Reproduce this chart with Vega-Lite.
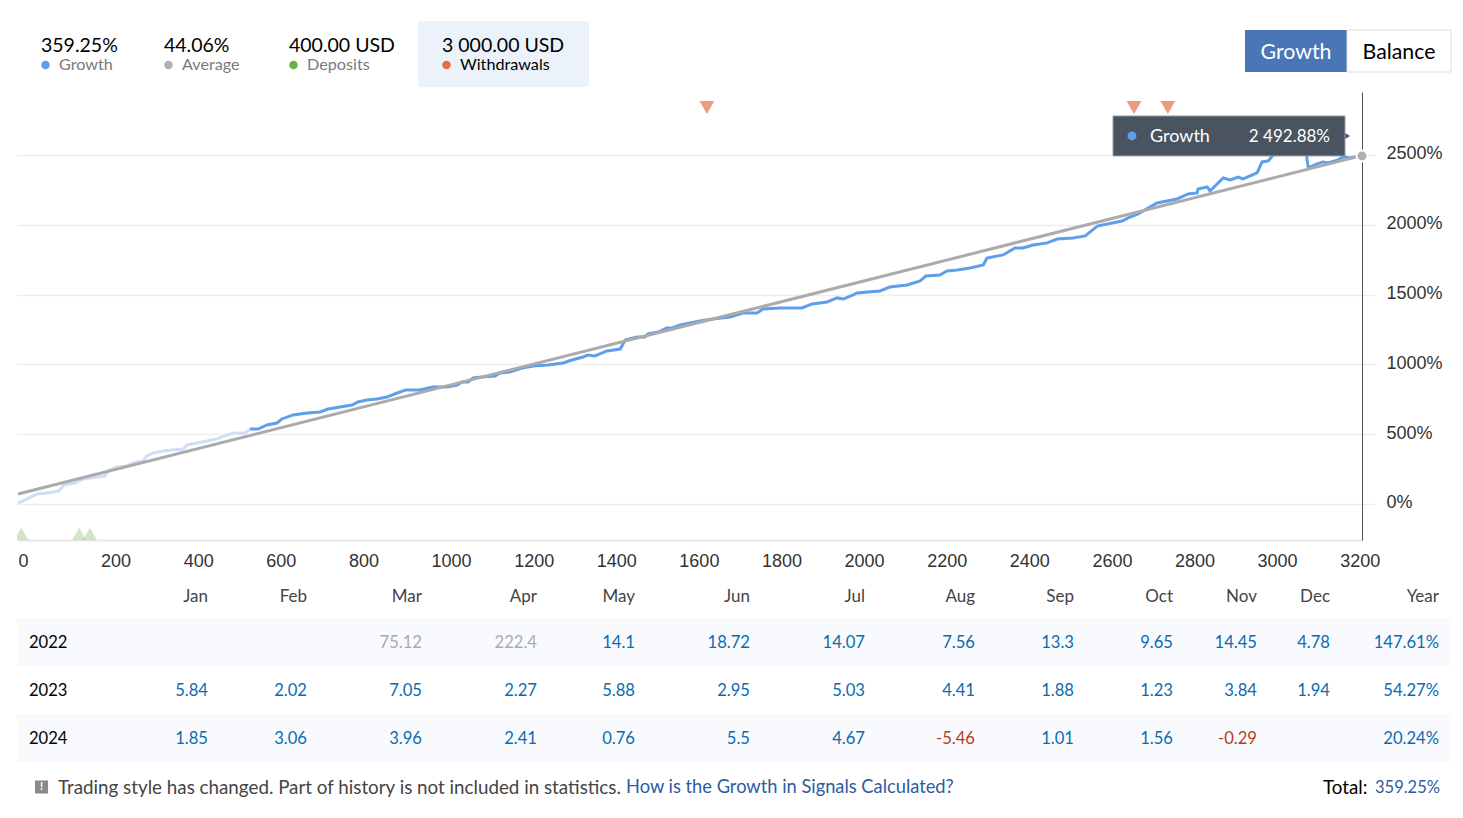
{
  "$schema": "https://vega.github.io/schema/vega-lite/v6.json",
  "padding": {"left": 11, "top": 0, "right": 0, "bottom": 0},
  "spacing": 0,
  "bounds": "flush",
  "background": "white",
  "resolve": {"scale": {"color": "independent"}},
  "config": {
    "view": {"stroke": null},
    "text": {"font": "Lato"},
    "axis": {"labelFont": "Liberation Sans", "labelColor": "#333333"}
  },
  "datasets": {
    "stats": [
      {"slot": 1, "amount": "359.25%", "label": "Growth"},
      {"slot": 2, "amount": "44.06%", "label": "Average"},
      {"slot": 3, "amount": "400.00 USD", "label": "Deposits"},
      {"slot": 4, "amount": "3 000.00 USD", "label": "Withdrawals"}
    ],
    "buttons": [
      {"slot": 5, "label": "Growth"},
      {"slot": 6, "label": "Balance"}
    ],
    "growth": [
      {"trade": 0, "growth": 7, "phase": "excluded"},
      {"trade": 22, "growth": 36, "phase": "excluded"},
      {"trade": 46, "growth": 72, "phase": "excluded"},
      {"trade": 70, "growth": 79, "phase": "excluded"},
      {"trade": 99, "growth": 93, "phase": "excluded"},
      {"trade": 111, "growth": 136, "phase": "excluded"},
      {"trade": 138, "growth": 150, "phase": "excluded"},
      {"trade": 157, "growth": 179, "phase": "excluded"},
      {"trade": 191, "growth": 193, "phase": "excluded"},
      {"trade": 211, "growth": 201, "phase": "excluded"},
      {"trade": 218, "growth": 236, "phase": "excluded"},
      {"trade": 240, "growth": 265, "phase": "excluded"},
      {"trade": 264, "growth": 272, "phase": "excluded"},
      {"trade": 278, "growth": 294, "phase": "excluded"},
      {"trade": 303, "growth": 308, "phase": "excluded"},
      {"trade": 312, "growth": 344, "phase": "excluded"},
      {"trade": 327, "growth": 365, "phase": "excluded"},
      {"trade": 351, "growth": 380, "phase": "excluded"},
      {"trade": 373, "growth": 387, "phase": "excluded"},
      {"trade": 400, "growth": 394, "phase": "excluded"},
      {"trade": 409, "growth": 423, "phase": "excluded"},
      {"trade": 433, "growth": 437, "phase": "excluded"},
      {"trade": 458, "growth": 451, "phase": "excluded"},
      {"trade": 482, "growth": 466, "phase": "excluded"},
      {"trade": 506, "growth": 494, "phase": "excluded"},
      {"trade": 525, "growth": 509, "phase": "excluded"},
      {"trade": 550, "growth": 509, "phase": "excluded"},
      {"trade": 562, "growth": 537, "phase": "excluded"},
      {"trade": 562, "growth": 537, "phase": "included"},
      {"trade": 581, "growth": 537, "phase": "included"},
      {"trade": 603, "growth": 566, "phase": "included"},
      {"trade": 627, "growth": 580, "phase": "included"},
      {"trade": 639, "growth": 609, "phase": "included"},
      {"trade": 666, "growth": 638, "phase": "included"},
      {"trade": 700, "growth": 652, "phase": "included"},
      {"trade": 731, "growth": 659, "phase": "included"},
      {"trade": 751, "growth": 680, "phase": "included"},
      {"trade": 780, "growth": 695, "phase": "included"},
      {"trade": 809, "growth": 709, "phase": "included"},
      {"trade": 823, "growth": 731, "phase": "included"},
      {"trade": 845, "growth": 745, "phase": "included"},
      {"trade": 869, "growth": 752, "phase": "included"},
      {"trade": 893, "growth": 766, "phase": "included"},
      {"trade": 918, "growth": 795, "phase": "included"},
      {"trade": 939, "growth": 817, "phase": "included"},
      {"trade": 973, "growth": 817, "phase": "included"},
      {"trade": 1005, "growth": 838, "phase": "included"},
      {"trade": 1039, "growth": 838, "phase": "included"},
      {"trade": 1063, "growth": 852, "phase": "included"},
      {"trade": 1075, "growth": 874, "phase": "included"},
      {"trade": 1090, "growth": 874, "phase": "included"},
      {"trade": 1102, "growth": 903, "phase": "included"},
      {"trade": 1123, "growth": 910, "phase": "included"},
      {"trade": 1155, "growth": 917, "phase": "included"},
      {"trade": 1167, "growth": 938, "phase": "included"},
      {"trade": 1191, "growth": 946, "phase": "included"},
      {"trade": 1220, "growth": 974, "phase": "included"},
      {"trade": 1247, "growth": 989, "phase": "included"},
      {"trade": 1283, "growth": 996, "phase": "included"},
      {"trade": 1320, "growth": 1010, "phase": "included"},
      {"trade": 1341, "growth": 1031, "phase": "included"},
      {"trade": 1368, "growth": 1053, "phase": "included"},
      {"trade": 1380, "growth": 1067, "phase": "included"},
      {"trade": 1397, "growth": 1060, "phase": "included"},
      {"trade": 1426, "growth": 1096, "phase": "included"},
      {"trade": 1458, "growth": 1110, "phase": "included"},
      {"trade": 1470, "growth": 1175, "phase": "included"},
      {"trade": 1499, "growth": 1196, "phase": "included"},
      {"trade": 1518, "growth": 1196, "phase": "included"},
      {"trade": 1525, "growth": 1218, "phase": "included"},
      {"trade": 1550, "growth": 1232, "phase": "included"},
      {"trade": 1571, "growth": 1261, "phase": "included"},
      {"trade": 1584, "growth": 1261, "phase": "included"},
      {"trade": 1603, "growth": 1282, "phase": "included"},
      {"trade": 1627, "growth": 1297, "phase": "included"},
      {"trade": 1651, "growth": 1311, "phase": "included"},
      {"trade": 1683, "growth": 1325, "phase": "included"},
      {"trade": 1724, "growth": 1340, "phase": "included"},
      {"trade": 1755, "growth": 1368, "phase": "included"},
      {"trade": 1789, "growth": 1368, "phase": "included"},
      {"trade": 1804, "growth": 1397, "phase": "included"},
      {"trade": 1845, "growth": 1404, "phase": "included"},
      {"trade": 1898, "growth": 1404, "phase": "included"},
      {"trade": 1923, "growth": 1433, "phase": "included"},
      {"trade": 1959, "growth": 1447, "phase": "included"},
      {"trade": 1983, "growth": 1476, "phase": "included"},
      {"trade": 1998, "growth": 1468, "phase": "included"},
      {"trade": 2022, "growth": 1497, "phase": "included"},
      {"trade": 2031, "growth": 1511, "phase": "included"},
      {"trade": 2087, "growth": 1526, "phase": "included"},
      {"trade": 2111, "growth": 1554, "phase": "included"},
      {"trade": 2153, "growth": 1569, "phase": "included"},
      {"trade": 2184, "growth": 1597, "phase": "included"},
      {"trade": 2198, "growth": 1633, "phase": "included"},
      {"trade": 2232, "growth": 1640, "phase": "included"},
      {"trade": 2249, "growth": 1669, "phase": "included"},
      {"trade": 2274, "growth": 1676, "phase": "included"},
      {"trade": 2305, "growth": 1690, "phase": "included"},
      {"trade": 2337, "growth": 1712, "phase": "included"},
      {"trade": 2346, "growth": 1762, "phase": "included"},
      {"trade": 2385, "growth": 1784, "phase": "included"},
      {"trade": 2414, "growth": 1834, "phase": "included"},
      {"trade": 2433, "growth": 1834, "phase": "included"},
      {"trade": 2458, "growth": 1855, "phase": "included"},
      {"trade": 2492, "growth": 1870, "phase": "included"},
      {"trade": 2516, "growth": 1898, "phase": "included"},
      {"trade": 2554, "growth": 1905, "phase": "included"},
      {"trade": 2584, "growth": 1920, "phase": "included"},
      {"trade": 2613, "growth": 1991, "phase": "included"},
      {"trade": 2673, "growth": 2027, "phase": "included"},
      {"trade": 2688, "growth": 2049, "phase": "included"},
      {"trade": 2712, "growth": 2077, "phase": "included"},
      {"trade": 2736, "growth": 2120, "phase": "included"},
      {"trade": 2758, "growth": 2156, "phase": "included"},
      {"trade": 2806, "growth": 2185, "phase": "included"},
      {"trade": 2833, "growth": 2221, "phase": "included"},
      {"trade": 2855, "growth": 2228, "phase": "included"},
      {"trade": 2857, "growth": 2256, "phase": "included"},
      {"trade": 2879, "growth": 2271, "phase": "included"},
      {"trade": 2886, "growth": 2242, "phase": "included"},
      {"trade": 2918, "growth": 2335, "phase": "included"},
      {"trade": 2935, "growth": 2321, "phase": "included"},
      {"trade": 2954, "growth": 2342, "phase": "included"},
      {"trade": 2966, "growth": 2328, "phase": "included"},
      {"trade": 3000, "growth": 2371, "phase": "included"},
      {"trade": 3012, "growth": 2450, "phase": "included"},
      {"trade": 3027, "growth": 2457, "phase": "included"},
      {"trade": 3039, "growth": 2500, "phase": "included"},
      {"trade": 3068, "growth": 2536, "phase": "included"},
      {"trade": 3099, "growth": 2550, "phase": "included"},
      {"trade": 3119, "growth": 2536, "phase": "included"},
      {"trade": 3121, "growth": 2464, "phase": "included"},
      {"trade": 3124, "growth": 2407, "phase": "included"},
      {"trade": 3145, "growth": 2436, "phase": "included"},
      {"trade": 3160, "growth": 2450, "phase": "included"},
      {"trade": 3172, "growth": 2443, "phase": "included"},
      {"trade": 3196, "growth": 2464, "phase": "included"},
      {"trade": 3208, "growth": 2486, "phase": "included"},
      {"trade": 3225, "growth": 2479, "phase": "included"},
      {"trade": 3237, "growth": 2486, "phase": "included"},
      {"trade": 3254, "growth": 2492.88, "phase": "included"}
    ],
    "average": [
      {"trade": 0, "growth": 72},
      {"trade": 3249, "growth": 2492}
    ],
    "withdrawals": [{"trade": 1668}, {"trade": 2702}, {"trade": 2784}],
    "deposits": [{"trade": 8}, {"trade": 148}, {"trade": 174}],
    "last": [{"trade": 3254, "growth": 2492.88, "series": "Growth", "label": "2 492.88%"}],
    "cells": [
      {"year": "header", "month": 1, "text": "Jan", "kind": "header"},
      {"year": "header", "month": 2, "text": "Feb", "kind": "header"},
      {"year": "header", "month": 3, "text": "Mar", "kind": "header"},
      {"year": "header", "month": 4, "text": "Apr", "kind": "header"},
      {"year": "header", "month": 5, "text": "May", "kind": "header"},
      {"year": "header", "month": 6, "text": "Jun", "kind": "header"},
      {"year": "header", "month": 7, "text": "Jul", "kind": "header"},
      {"year": "header", "month": 8, "text": "Aug", "kind": "header"},
      {"year": "header", "month": 9, "text": "Sep", "kind": "header"},
      {"year": "header", "month": 10, "text": "Oct", "kind": "header"},
      {"year": "header", "month": 11, "text": "Nov", "kind": "header"},
      {"year": "header", "month": 12, "text": "Dec", "kind": "header"},
      {"year": "header", "month": 13, "text": "Year", "kind": "header"},
      {"year": "2022", "month": 3, "text": "75.12", "kind": "excluded"},
      {"year": "2022", "month": 4, "text": "222.4", "kind": "excluded"},
      {"year": "2022", "month": 5, "text": "14.1", "kind": "gain"},
      {"year": "2022", "month": 6, "text": "18.72", "kind": "gain"},
      {"year": "2022", "month": 7, "text": "14.07", "kind": "gain"},
      {"year": "2022", "month": 8, "text": "7.56", "kind": "gain"},
      {"year": "2022", "month": 9, "text": "13.3", "kind": "gain"},
      {"year": "2022", "month": 10, "text": "9.65", "kind": "gain"},
      {"year": "2022", "month": 11, "text": "14.45", "kind": "gain"},
      {"year": "2022", "month": 12, "text": "4.78", "kind": "gain"},
      {"year": "2022", "month": 13, "text": "147.61%", "kind": "gain"},
      {"year": "2023", "month": 1, "text": "5.84", "kind": "gain"},
      {"year": "2023", "month": 2, "text": "2.02", "kind": "gain"},
      {"year": "2023", "month": 3, "text": "7.05", "kind": "gain"},
      {"year": "2023", "month": 4, "text": "2.27", "kind": "gain"},
      {"year": "2023", "month": 5, "text": "5.88", "kind": "gain"},
      {"year": "2023", "month": 6, "text": "2.95", "kind": "gain"},
      {"year": "2023", "month": 7, "text": "5.03", "kind": "gain"},
      {"year": "2023", "month": 8, "text": "4.41", "kind": "gain"},
      {"year": "2023", "month": 9, "text": "1.88", "kind": "gain"},
      {"year": "2023", "month": 10, "text": "1.23", "kind": "gain"},
      {"year": "2023", "month": 11, "text": "3.84", "kind": "gain"},
      {"year": "2023", "month": 12, "text": "1.94", "kind": "gain"},
      {"year": "2023", "month": 13, "text": "54.27%", "kind": "gain"},
      {"year": "2024", "month": 1, "text": "1.85", "kind": "gain"},
      {"year": "2024", "month": 2, "text": "3.06", "kind": "gain"},
      {"year": "2024", "month": 3, "text": "3.96", "kind": "gain"},
      {"year": "2024", "month": 4, "text": "2.41", "kind": "gain"},
      {"year": "2024", "month": 5, "text": "0.76", "kind": "gain"},
      {"year": "2024", "month": 6, "text": "5.5", "kind": "gain"},
      {"year": "2024", "month": 7, "text": "4.67", "kind": "gain"},
      {"year": "2024", "month": 8, "text": "-5.46", "kind": "loss"},
      {"year": "2024", "month": 9, "text": "1.01", "kind": "gain"},
      {"year": "2024", "month": 10, "text": "1.56", "kind": "gain"},
      {"year": "2024", "month": 11, "text": "-0.29", "kind": "loss"},
      {"year": "2024", "month": 13, "text": "20.24%", "kind": "gain"}
    ],
    "years": [{"year": "2022", "month": 0}, {"year": "2023", "month": 0}, {"year": "2024", "month": 0}],
    "shaded": [{"year": "2022", "month": -1}, {"year": "2024", "month": -1}],
    "notes": [
      {"part": 1, "text": "Trading style has changed. Part of history is not included in statistics.", "kind": "note"},
      {"part": 3, "text": "Total:", "kind": "total"}
    ],
    "links": [
      {"part": 2, "text": "How is the Growth in Signals Calculated?"}
    ],
    "total": [{"part": 4, "text": "359.25%"}]
  },
  "vconcat": [
    {
      "width": 1434,
      "height": 92,
      "encoding": {
        "x": {"field": "slot", "type": "quantitative", "axis": null,
          "scale": {"domain": [1, 2, 3, 4, 5, 6], "range": [24, 147, 272, 425, 1279, 1382]}},
        "y": {"datum": "amount", "type": "nominal", "axis": null,
          "scale": {"type": "point", "domain": ["amount", "label"], "range": [45, 65], "padding": 0}}
      },
      "layer": [
        {
          "data": {"name": "stats"},
          "transform": [{"filter": "datum.slot == 4"}],
          "mark": {"type": "rect", "width": 171, "height": 66, "xOffset": 61.5, "yOffset": 9, "fill": "#EBF2FA", "cornerRadius": 3}
        },
        {
          "data": {"name": "stats"},
          "mark": {"type": "text", "align": "left", "baseline": "middle", "dy": 1, "fontSize": 19.5, "fill": "#000000"},
          "encoding": {"text": {"field": "amount"}}
        },
        {
          "data": {"name": "stats"},
          "mark": {"type": "point", "filled": true, "size": 72, "xOffset": 4.5, "opacity": 1},
          "encoding": {
            "y": {"datum": "label", "type": "nominal"},
            "color": {"field": "label", "type": "nominal", "legend": null,
              "scale": {"domain": ["Growth", "Average", "Deposits", "Withdrawals"], "range": ["#5F9EEB", "#ABB0B6", "#6CB045", "#E96C45"]}}
          }
        },
        {
          "data": {"name": "stats"},
          "mark": {"type": "text", "align": "left", "baseline": "middle", "dx": 18, "fontSize": 16.2},
          "encoding": {
            "y": {"datum": "label", "type": "nominal"},
            "text": {"field": "label"},
            "fill": {"condition": {"test": "datum.slot == 4", "value": "#000000"}, "value": "#7A7A7A"}
          }
        },
        {
          "data": {"name": "buttons"},
          "transform": [{"filter": "datum.slot == 5"}],
          "mark": {"type": "rect", "width": 102, "height": 42, "yOffset": 6, "fill": "#4A76B8"}
        },
        {
          "data": {"name": "buttons"},
          "transform": [{"filter": "datum.slot == 6"}],
          "mark": {"type": "rect", "width": 104, "height": 42, "yOffset": 6, "fill": "#FFFFFF", "stroke": "#DDDDDD", "strokeWidth": 1}
        },
        {
          "data": {"name": "buttons"},
          "mark": {"type": "text", "align": "center", "baseline": "middle", "dy": 7.5, "fontSize": 21.3},
          "encoding": {
            "text": {"field": "label"},
            "fill": {"condition": {"test": "datum.slot == 5", "value": "#FFFFFF"}, "value": "#000000"}
          }
        }
      ]
    },
    {
      "width": 1345,
      "height": 448,
      "layer": [
        {
          "encoding": {
            "x": {"field": "trade", "type": "quantitative", "title": null,
              "scale": {"domain": [-2.4, 3254], "nice": false, "zero": false},
              "axis": {"orient": "bottom", "values": [0, 200, 400, 600, 800, 1000, 1200, 1400, 1600, 1800, 2000, 2200, 2400, 2600, 2800, 3000, 3200],
                "format": "d", "labelAlign": "left", "labelFontSize": 18, "labelPadding": 12, "labelOverlap": false, "labelFlush": false, "labelBound": false,
                "ticks": false, "grid": false, "domainColor": "#E8E8E8", "domainWidth": 2}},
            "y": {"field": "growth", "type": "quantitative", "title": null,
              "scale": {"domain": [-258, 2951], "nice": false, "zero": false},
              "axis": {"orient": "right", "values": [0, 500, 1000, 1500, 2000, 2500], "labelExpr": "datum.value + '%'",
                "labelFontSize": 18, "labelPadding": 11, "labelOffset": -1, "labelBound": false, "labelOverlap": false,
                "tickSize": 13, "tickColor": "#EEEEEE", "tickWidth": 1.5,
                "grid": true, "gridColor": "#EEEEEE", "gridWidth": 1.5, "domainColor": "#4A5360", "domainWidth": 1}}
          },
          "layer": [
            {
              "data": {"name": "growth"},
              "mark": {"type": "line", "strokeWidth": 3, "interpolate": "linear"},
              "encoding": {
                "color": {"field": "phase", "type": "nominal", "legend": null,
                  "scale": {"domain": ["excluded", "included"], "range": ["#CFDDF7", "#5F9EEB"]}}
              }
            },
            {
              "data": {"name": "average"},
              "mark": {"type": "line", "strokeWidth": 3, "color": "#ABABAB"}
            },
            {
              "data": {"name": "last"},
              "mark": {"type": "point", "shape": "triangle-right", "filled": true, "size": 50, "xOffset": -15, "yOffset": -20, "color": "#4A5360", "opacity": 1}
            },
            {
              "data": {"name": "last"},
              "mark": {"type": "rect", "width": 232, "height": 40, "xOffset": -133, "yOffset": -20, "fill": "#4A5360", "stroke": "#9AA0A8", "strokeWidth": 1}
            },
            {
              "data": {"name": "last"},
              "mark": {"type": "point", "filled": true, "size": 80, "xOffset": -230, "yOffset": -20, "color": "#5F9EEB", "opacity": 1}
            },
            {
              "data": {"name": "last"},
              "mark": {"type": "text", "align": "left", "baseline": "middle", "dx": -212, "dy": -19, "fontSize": 18, "fill": "#FFFFFF"},
              "encoding": {"text": {"field": "series"}}
            },
            {
              "data": {"name": "last"},
              "mark": {"type": "text", "align": "right", "baseline": "middle", "dx": -32, "dy": -19, "fontSize": 17, "fill": "#FFFFFF"},
              "encoding": {"text": {"field": "label"}}
            },
            {
              "data": {"name": "last"},
              "mark": {"type": "point", "filled": true, "size": 120, "fill": "#ABB0B6", "stroke": "#FFFFFF", "strokeWidth": 2, "opacity": 1}
            }
          ]
        },
        {
          "data": {"name": "withdrawals"},
          "mark": {"type": "point", "shape": "triangle-down", "filled": true, "size": 220, "color": "#EE9A80", "opacity": 1},
          "encoding": {
            "x": {"field": "trade", "type": "quantitative"},
            "y": {"datum": 2840, "type": "quantitative"}
          }
        },
        {
          "data": {"name": "deposits"},
          "mark": {"type": "point", "shape": "triangle-up", "filled": true, "size": 200, "color": "#A5CB8A", "opacity": 0.5, "clip": true},
          "encoding": {
            "x": {"field": "trade", "type": "quantitative"},
            "y": {"datum": -215, "type": "quantitative"}
          }
        }
      ]
    },
    {
      "width": 1434,
      "height": 222,
      "layer": [
        {
          "data": {"name": "shaded"},
          "mark": {"type": "rect", "fill": "#F8FAFD"},
          "encoding": {
            "x": {"field": "month", "type": "quantitative", "axis": null,
              "scale": {"domain": [-1, 0, 1, 2, 3, 4, 5, 6, 7, 8, 9, 10, 11, 12, 13, 14],
                "range": [-12, 12, 191, 290, 405, 520, 618, 733, 848, 958, 1057, 1156, 1240, 1313, 1422, 1434]}},
            "x2": {"datum": 14},
            "y": {"field": "year", "type": "nominal", "axis": null,
              "scale": {"type": "band", "domain": ["header", "2022", "2023", "2024"], "range": [30, 222], "paddingInner": 0, "paddingOuter": 0}}
          }
        },
        {
          "data": {"name": "years"},
          "mark": {"type": "text", "align": "left", "baseline": "middle", "dy": 1, "fontSize": 16.6, "fill": "#000000"},
          "encoding": {
            "x": {"field": "month", "type": "quantitative", "axis": null},
            "y": {"field": "year", "type": "nominal", "axis": null},
            "text": {"field": "year"}
          }
        },
        {
          "data": {"name": "cells"},
          "transform": [{"filter": "datum.kind != 'header'"}],
          "mark": {"type": "text", "align": "right", "baseline": "middle", "dy": 1, "fontSize": 16.6},
          "encoding": {
            "x": {"field": "month", "type": "quantitative", "axis": null},
            "y": {"field": "year", "type": "nominal", "axis": null},
            "text": {"field": "text"},
            "color": {"field": "kind", "type": "nominal", "legend": null,
              "scale": {"domain": ["excluded", "gain", "loss"], "range": ["#ABABAB", "#0B6BB0", "#B93B1A"]}}
          }
        },
        {
          "data": {"name": "cells"},
          "transform": [{"filter": "datum.kind == 'header'"}],
          "mark": {"type": "text", "align": "right", "baseline": "middle", "dy": 3, "fontSize": 17, "fill": "#444444"},
          "encoding": {
            "x": {"field": "month", "type": "quantitative", "axis": null},
            "y": {"field": "year", "type": "nominal", "axis": null},
            "text": {"field": "text"}
          }
        }
      ]
    },
    {
      "width": 1434,
      "height": 56,
      "encoding": {
        "x": {"field": "part", "type": "quantitative", "axis": null,
          "scale": {"domain": [0, 1, 2, 3, 4], "range": [24.5, 41, 609, 1306, 1358]}},
        "y": {"datum": "line", "type": "nominal", "axis": null,
          "scale": {"type": "band", "domain": ["line"], "range": [0, 50]}}
      },
      "layer": [
        {
          "data": {"values": [{"part": 0, "text": "!"}]},
          "mark": {"type": "point", "shape": "square", "filled": true, "size": 170, "color": "#8A8A8A", "opacity": 1}
        },
        {
          "data": {"values": [{"part": 0, "text": "!"}]},
          "mark": {"type": "text", "align": "center", "baseline": "middle", "fontSize": 11, "fontWeight": "bold", "fill": "#FFFFFF"},
          "encoding": {"text": {"field": "text"}}
        },
        {
          "data": {"name": "notes"},
          "mark": {"type": "text", "align": "left", "baseline": "middle", "dy": 1, "fontSize": 18.8},
          "encoding": {
            "text": {"field": "text"},
            "fill": {"condition": {"test": "datum.kind == 'total'", "value": "#000000"}, "value": "#444444"}
          }
        },
        {
          "data": {"name": "links"},
          "mark": {"type": "text", "align": "left", "baseline": "middle", "dy": 1, "fontSize": 18.3, "fill": "#2F5C9E"},
          "encoding": {"text": {"field": "text"}}
        },
        {
          "data": {"name": "total"},
          "mark": {"type": "text", "align": "left", "baseline": "middle", "dy": 1, "fontSize": 16.5, "fill": "#2F5C9E"},
          "encoding": {"text": {"field": "text"}}
        }
      ]
    }
  ]
}
